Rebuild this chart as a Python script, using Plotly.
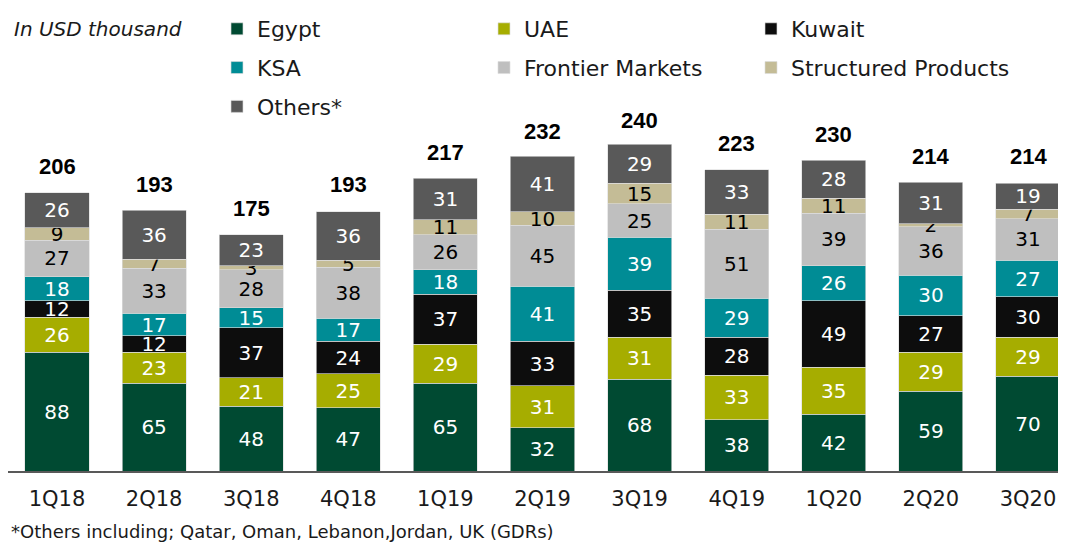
import plotly.graph_objects as go

quarters = ["1Q18", "2Q18", "3Q18", "4Q18", "1Q19", "2Q19", "3Q19", "4Q19", "1Q20", "2Q20", "3Q20"]
egypt = [88, 65, 48, 47, 65, 32, 68, 38, 42, 59, 70]
uae = [26, 23, 21, 25, 29, 31, 31, 33, 35, 29, 29]
kuwait = [12, 12, 37, 24, 37, 33, 35, 28, 49, 27, 30]
ksa = [18, 17, 15, 17, 18, 41, 39, 29, 26, 30, 27]
frontier = [27, 33, 28, 38, 26, 45, 25, 51, 39, 36, 31]
structured = [9, 7, 3, 5, 11, 10, 15, 11, 11, 2, 7]
others = [26, 36, 23, 36, 31, 41, 29, 33, 28, 31, 19]
totals = [206, 193, 175, 193, 217, 232, 240, 223, 230, 214, 214]

series = [
    ("Egypt", egypt, "#004A32", "white", "legend"),
    ("UAE", uae, "#A6AD00", "white", "legend"),
    ("Kuwait", kuwait, "#0D0D0D", "white", "legend"),
    ("KSA", ksa, "#008C95", "white", "legend2"),
    ("Frontier Markets", frontier, "#BFBFBF", "black", "legend2"),
    ("Structured Products", structured, "#C4BC96", "black", "legend2"),
    ("Others*", others, "#595959", "white", "legend3"),
]

FONT = "DejaVu Sans"
OFF = 8  # page body margin
W, H = 1066 - OFF, 542 - OFF
ML, MR, MT = 0, 0, 0
BASE = 471 - OFF
MB = H - BASE
PW = W - ML - MR
PH = H - MT - MB
UNIT_X = 97.1
X0 = 57 - OFF - ML
xr = [-X0 / UNIT_X, -X0 / UNIT_X + PW / UNIT_X]
PX_PER_VAL = 1.356
yr = [0, PH / PX_PER_VAL]

fig = go.Figure()
for name, vals, color, tcolor, leg in series:
    fig.add_trace(go.Bar(
        x=quarters, y=vals, name=name, legend=leg,
        marker=dict(color=color, line=dict(color="rgba(220,220,220,0.8)", width=0.8)),
        text=[str(v) for v in vals], textposition="inside", insidetextanchor="middle",
        constraintext="none", textangle=0,
        textfont=dict(family=FONT, size=20, color=tcolor),
        hoverinfo="skip",
    ))

for q, t in zip(quarters, totals):
    fig.add_annotation(x=q, y=t, text="<b>%d</b>" % t, showarrow=False,
                       yanchor="middle", yshift=26,
                       font=dict(family="Liberation Sans", size=22, color="black"))

def px_x(p):
    return (p - OFF - ML) / PW

def px_y(p):
    return (BASE - (p - OFF)) / PH

leg_common = dict(orientation="h", xanchor="left", yanchor="middle",
                  font=dict(family=FONT, size=22, color="#1A1A1A"),
                  entrywidth=222, entrywidthmode="pixels",
                  bgcolor="rgba(0,0,0,0)", borderwidth=0, traceorder="normal")

fig.update_layout(
    width=W, height=H,
    margin=dict(l=ML, r=MR, t=MT, b=MB),
    paper_bgcolor="white", plot_bgcolor="white",
    barmode="stack", bargap=0.34,
    showlegend=True,
    legend=dict(x=px_x(217), y=px_y(27), **leg_common),
    legend2=dict(x=px_x(217), y=px_y(66), **leg_common),
    legend3=dict(x=px_x(217), y=px_y(105), **leg_common),
    xaxis=dict(range=xr, showgrid=False, zeroline=False, showline=True,
               linecolor="#595959", linewidth=1.5, ticks="outside", ticklen=0,
               ticklabelstandoff=8,
               tickfont=dict(family=FONT, size=21, color="#1A1A1A"), fixedrange=True),
    yaxis=dict(range=yr, visible=False, fixedrange=True),
)

fig.add_annotation(x=px_x(12), y=px_y(27), xref="paper", yref="paper", xanchor="left",
                   yanchor="middle", showarrow=False, text="<i>In USD thousand</i>",
                   font=dict(family=FONT, size=20, color="#1A1A1A"))
fig.add_annotation(x=px_x(9), y=px_y(532), xref="paper", yref="paper", xanchor="left",
                   yanchor="middle", showarrow=False,
                   text="*Others including; Qatar, Oman, Lebanon,Jordan, UK (GDRs)",
                   font=dict(family=FONT, size=18, color="#1A1A1A"))

fig.write_html("out.html")
